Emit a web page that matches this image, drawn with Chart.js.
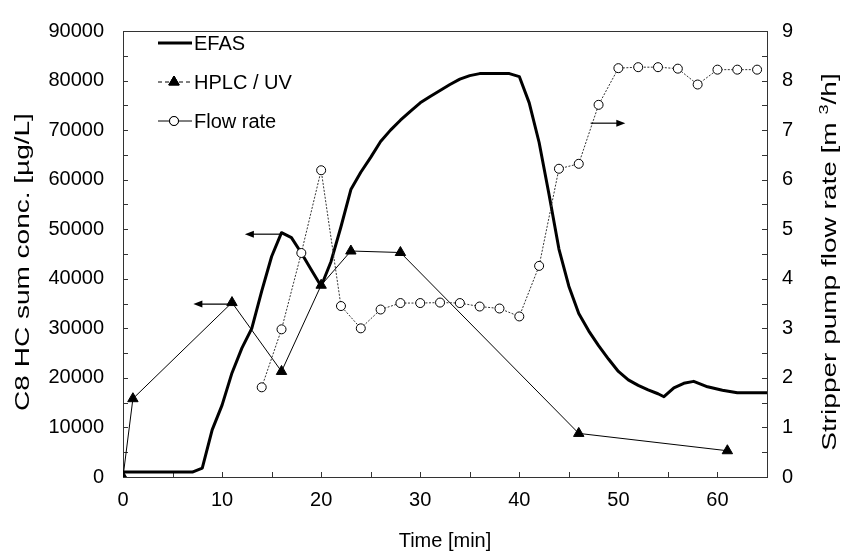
<!DOCTYPE html>
<html>
<head>
<meta charset="utf-8">
<script src="https://cdn.jsdelivr.net/npm/chart.js@4.4.1/dist/chart.umd.min.js"></script>
<style>
  html, body { margin: 0; padding: 0; background: #fff; }
  canvas { display: block; }
</style>
</head>
<body>
<canvas id="chart" width="842" height="554"></canvas>
<script>
// EFAS online signal (µg/L)
const efasTime = [0, 7, 8, 9, 10, 11, 12, 13, 14, 15, 16, 17, 18, 19, 20, 21, 22, 23, 24, 25,
  26, 27, 28, 29, 30, 31, 32, 33, 34, 35, 36, 38, 39, 40, 41, 42, 43, 44, 45, 46, 47, 48, 49,
  50, 51, 52, 53, 54, 54.6, 55.6, 56.6, 57.6, 59, 60.5, 62, 65];
const efasConc = [1000, 1000, 1800, 9500, 14500, 21000, 26000, 30000, 37500, 44500, 49300, 48300,
  45200, 41800, 38500, 43500, 50500, 58000, 61500, 64500, 67700, 70000, 72000, 73800, 75500,
  76800, 78000, 79200, 80300, 81000, 81400, 81400, 81400, 80800, 75500, 67500, 57000, 46000,
  38500, 33000, 29500, 26500, 23800, 21300, 19600, 18500, 17600, 16800, 16200, 18000, 18900,
  19300, 18200, 17500, 17000, 17000];

// HPLC / UV lab samples (µg/L)
const hplcTime = [0, 1, 11, 16, 20, 23, 28, 46, 61];
const hplcConc = [0, 15800, 35200, 21300, 38700, 45600, 45300, 8800, 5300];

// stripper pump flow rate (m3/h)
const flowTime = [14, 16, 18, 20, 22, 24, 26, 28, 30, 32, 34, 36, 38, 40, 42, 44, 46, 48, 50,
  52, 54, 56, 58, 60, 62, 64];
const flowRate = [1.81, 2.98, 4.52, 6.19, 3.45, 3.0, 3.38, 3.51, 3.51, 3.52, 3.51, 3.44, 3.4,
  3.24, 4.26, 6.22, 6.32, 7.51, 8.25, 8.27, 8.27, 8.24, 7.92, 8.22, 8.22, 8.22];

const timeTicks = [0, 10, 20, 30, 40, 50, 60];
const concTicks = [0, 10000, 20000, 30000, 40000, 50000, 60000, 70000, 80000, 90000];
const flowTicks = [0, 1, 2, 3, 4, 5, 6, 7, 8, 9];

// arrows pointing each curve to its axis: [fromTime, toTime, value, axis]
const arrows = [
  [15.9, 12.3, 49000, 'y'],
  [11.0, 7.1, 34900, 'y'],
  [47.2, 50.7, 7.14, 'y2']
];

const FONT = 'Liberation Sans, Arial, Helvetica, sans-serif';
const toPoints = (xs, ys) => xs.map((x, i) => ({ x: x, y: ys[i] }));
const fixTicks = (list) => (scale) => { scale.ticks = list.map(v => ({ value: v })); };

// box around the plot plus short inward tick marks
const framePlugin = {
  id: 'frame',
  beforeDatasetsDraw(chart) {
    const { ctx, chartArea: a, scales } = chart;
    ctx.save();
    ctx.strokeStyle = '#333';
    ctx.lineWidth = 1;
    ctx.strokeRect(a.left + 0.5, a.top + 0.5, a.right - a.left, a.bottom - a.top);
    ctx.beginPath();
    for (let t = 5; t < 65; t += 5) {
      const x = Math.round(scales.x.getPixelForValue(t)) + 0.5;
      ctx.moveTo(x, a.bottom); ctx.lineTo(x, a.bottom - 5);
    }
    for (let v = 5000; v < 90000; v += 5000) {
      const y = Math.round(scales.y.getPixelForValue(v)) + 0.5;
      ctx.moveTo(a.left, y); ctx.lineTo(a.left + 5, y);
    }
    for (let v = 0.5; v < 9; v += 0.5) {
      const y = Math.round(scales.y2.getPixelForValue(v)) + 0.5;
      ctx.moveTo(a.right, y); ctx.lineTo(a.right - 5, y);
    }
    ctx.stroke();
    ctx.restore();
  }
};

const arrowPlugin = {
  id: 'arrows',
  afterDatasetsDraw(chart) {
    const { ctx, scales } = chart;
    ctx.save();
    ctx.strokeStyle = '#000';
    ctx.fillStyle = '#000';
    ctx.lineWidth = 1.2;
    arrows.forEach(([t0, t1, v, axis]) => {
      const x0 = scales.x.getPixelForValue(t0);
      const x1 = scales.x.getPixelForValue(t1);
      const y = scales[axis].getPixelForValue(v);
      const dir = Math.sign(x1 - x0);
      ctx.beginPath();
      ctx.moveTo(x0, y);
      ctx.lineTo(x1 - dir * 6, y);
      ctx.stroke();
      ctx.beginPath();
      ctx.moveTo(x1, y);
      ctx.lineTo(x1 - dir * 9, y - 3.5);
      ctx.lineTo(x1 - dir * 9, y + 3.5);
      ctx.closePath();
      ctx.fill();
    });
    ctx.restore();
  }
};

// legend in the upper left corner of the plot
const legendPlugin = {
  id: 'sideLegend',
  afterDraw(chart) {
    const { ctx } = chart;
    const rows = [
      { ds: chart.data.datasets[0], y: 43, dash: [] },
      { ds: chart.data.datasets[1], y: 82, dash: [4, 3] },
      { ds: chart.data.datasets[2], y: 121, dash: [] }
    ];
    ctx.save();
    rows.forEach(({ ds, y, dash }) => {
      ctx.strokeStyle = '#000';
      ctx.lineWidth = ds.borderWidth;
      ctx.setLineDash(dash);
      ctx.beginPath();
      ctx.moveTo(158, y);
      ctx.lineTo(192, y);
      ctx.stroke();
      ctx.setLineDash([]);
      if (ds.pointRadius > 0) {
        Chart.helpers.drawPoint(ctx, {
          pointStyle: ds.pointStyle,
          radius: ds.pointRadius,
          borderWidth: 1
        }, 174, y);
        ctx.fillStyle = ds.pointBackgroundColor;
        ctx.strokeStyle = '#000';
        ctx.lineWidth = 1;
        ctx.fill();
        ctx.stroke();
      }
      ctx.fillStyle = '#000';
      ctx.font = '20px ' + FONT;
      ctx.textBaseline = 'middle';
      ctx.textAlign = 'left';
      ctx.fillText(ds.label, 194, y + 1);
    });
    ctx.restore();
  }
};

// vertical axis titles, both reading bottom to top, drawn a little elongated
const TITLE_STRETCH = 1.4;
const titlePlugin = {
  id: 'sideTitles',
  afterDraw(chart) {
    const { ctx } = chart;
    ctx.save();
    ctx.fillStyle = '#000';
    ctx.textBaseline = 'alphabetic';

    ctx.save();
    ctx.translate(29, 262);
    ctx.rotate(-Math.PI / 2);
    ctx.scale(TITLE_STRETCH, 1);
    ctx.font = '20px ' + FONT;
    ctx.textAlign = 'center';
    ctx.fillText('C8 HC sum conc. [µg/L]', 0, 0);
    ctx.restore();

    const parts = [
      ['Stripper pump flow rate [m ', 20, 0],
      ['3', 13, -8],
      ['/h]', 20, 0]
    ];
    let total = 0;
    parts.forEach(p => { ctx.font = p[1] + 'px ' + FONT; total += ctx.measureText(p[0]).width; });
    ctx.save();
    ctx.translate(836, 262);
    ctx.rotate(-Math.PI / 2);
    ctx.scale(TITLE_STRETCH, 1);
    ctx.textAlign = 'left';
    let pos = -total / 2;
    parts.forEach(p => {
      ctx.font = p[1] + 'px ' + FONT;
      ctx.fillText(p[0], pos, p[2]);
      pos += ctx.measureText(p[0]).width;
    });
    ctx.restore();
    ctx.restore();
  }
};

new Chart(document.getElementById('chart'), {
  type: 'line',
  data: {
    datasets: [
      {
        label: 'EFAS',
        data: toPoints(efasTime, efasConc),
        yAxisID: 'y',
        borderColor: '#000',
        borderWidth: 3,
        borderJoinStyle: 'round',
        pointRadius: 0,
        tension: 0,
        order: 3
      },
      {
        label: 'HPLC / UV',
        data: toPoints(hplcTime, hplcConc),
        yAxisID: 'y',
        borderColor: '#000',
        borderWidth: 1,
        pointStyle: 'triangle',
        pointRadius: 6,
        pointBackgroundColor: '#000',
        pointBorderColor: '#000',
        order: 2
      },
      {
        label: 'Flow rate',
        data: toPoints(flowTime, flowRate),
        yAxisID: 'y2',
        borderColor: '#333',
        borderWidth: 1,
        borderDash: [2, 1.5],
        pointStyle: 'circle',
        pointRadius: 4.5,
        pointBackgroundColor: '#fff',
        pointBorderColor: '#000',
        pointBorderWidth: 1,
        order: 1
      }
    ]
  },
  options: {
    responsive: false,
    animation: false,
    devicePixelRatio: 1,
    layout: { padding: { top: 18, left: 0, right: 0, bottom: 0 } },
    plugins: {
      legend: { display: false },
      tooltip: { enabled: false }
    },
    scales: {
      x: {
        type: 'linear',
        min: 0,
        max: 65,
        afterBuildTicks: fixTicks(timeTicks),
        afterFit: (s) => { s.height = 77; },
        grid: { display: false, drawTicks: false },
        border: { display: false },
        ticks: { color: '#000', font: { family: FONT, size: 20 }, padding: 11, maxRotation: 0, autoSkip: false },
        title: { display: true, text: 'Time [min]', color: '#000', font: { family: FONT, size: 20 }, padding: { bottom: 1 } }
      },
      y: {
        position: 'left',
        min: 0,
        max: 90000,
        afterBuildTicks: fixTicks(concTicks),
        afterFit: (s) => { s.width = 123; },
        grid: { display: false, drawTicks: false },
        border: { display: false },
        ticks: { color: '#000', font: { family: FONT, size: 20 }, padding: 19, callback: (v) => String(v) }
      },
      y2: {
        position: 'right',
        min: 0,
        max: 9,
        afterBuildTicks: fixTicks(flowTicks),
        afterFit: (s) => { s.width = 75; },
        grid: { display: false, drawTicks: false },
        border: { display: false },
        ticks: { color: '#000', font: { family: FONT, size: 20 }, padding: 15, callback: (v) => String(v) }
      }
    }
  },
  plugins: [framePlugin, arrowPlugin, legendPlugin, titlePlugin]
});
</script>
</body>
</html>
